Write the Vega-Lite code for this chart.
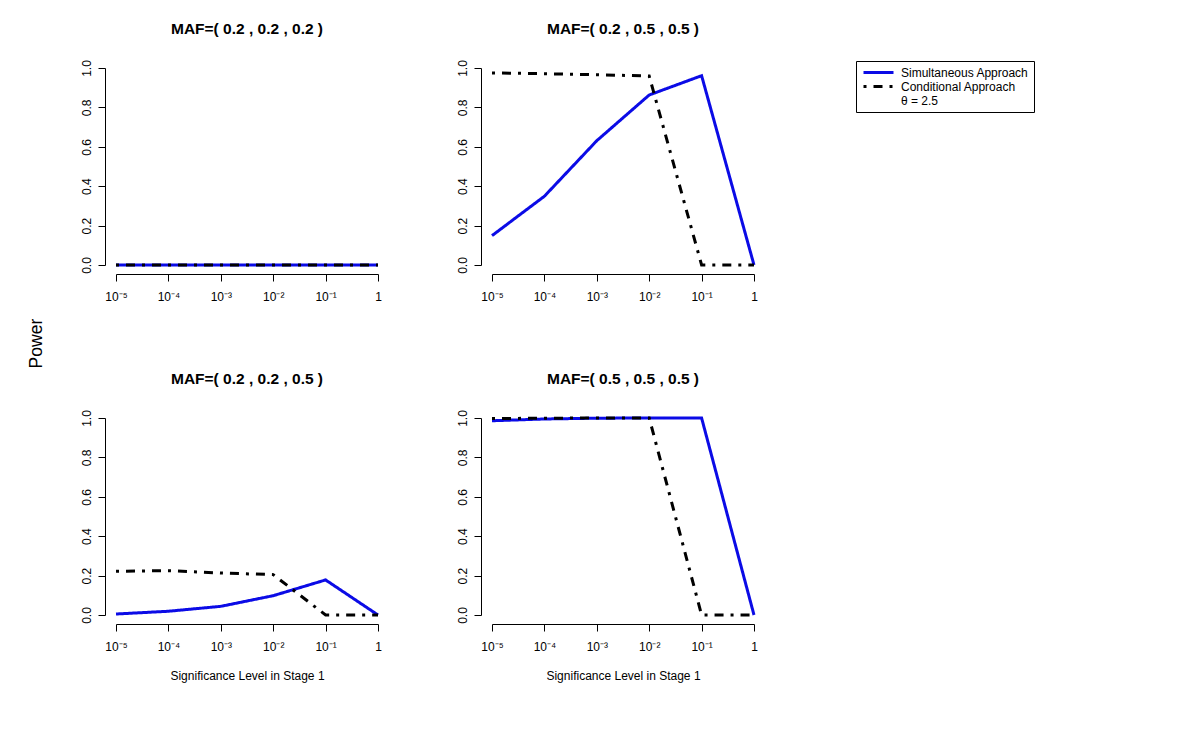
{
  "$schema": "https://vega.github.io/schema/vega-lite/v6.json",
  "background": "white",
  "padding": {"left": 27, "top": 22, "right": 5, "bottom": 5},
  "title": {"text": "Power", "orient": "left", "anchor": "middle", "fontSize": 17.5, "fontWeight": "normal", "font": "Liberation Sans", "color": "black", "offset": 35, "dx": 8},
  "datasets": {
    "power": [
      {"panel": "A", "series": "Simultaneous Approach", "alpha": 0.00001, "power": 0},
      {"panel": "A", "series": "Simultaneous Approach", "alpha": 0.0001, "power": 0},
      {"panel": "A", "series": "Simultaneous Approach", "alpha": 0.001, "power": 0},
      {"panel": "A", "series": "Simultaneous Approach", "alpha": 0.01, "power": 0},
      {"panel": "A", "series": "Simultaneous Approach", "alpha": 0.1, "power": 0},
      {"panel": "A", "series": "Simultaneous Approach", "alpha": 1, "power": 0},
      {"panel": "A", "series": "Conditional Approach", "alpha": 0.00001, "power": 0},
      {"panel": "A", "series": "Conditional Approach", "alpha": 0.0001, "power": 0},
      {"panel": "A", "series": "Conditional Approach", "alpha": 0.001, "power": 0},
      {"panel": "A", "series": "Conditional Approach", "alpha": 0.01, "power": 0},
      {"panel": "A", "series": "Conditional Approach", "alpha": 0.1, "power": 0},
      {"panel": "A", "series": "Conditional Approach", "alpha": 1, "power": 0},
      {"panel": "B", "series": "Simultaneous Approach", "alpha": 0.00001, "power": 0.149},
      {"panel": "B", "series": "Simultaneous Approach", "alpha": 0.0001, "power": 0.349},
      {"panel": "B", "series": "Simultaneous Approach", "alpha": 0.001, "power": 0.631},
      {"panel": "B", "series": "Simultaneous Approach", "alpha": 0.01, "power": 0.863},
      {"panel": "B", "series": "Simultaneous Approach", "alpha": 0.1, "power": 0.961},
      {"panel": "B", "series": "Simultaneous Approach", "alpha": 1, "power": 0},
      {"panel": "B", "series": "Conditional Approach", "alpha": 0.00001, "power": 0.975},
      {"panel": "B", "series": "Conditional Approach", "alpha": 0.0001, "power": 0.971},
      {"panel": "B", "series": "Conditional Approach", "alpha": 0.001, "power": 0.966},
      {"panel": "B", "series": "Conditional Approach", "alpha": 0.01, "power": 0.959},
      {"panel": "B", "series": "Conditional Approach", "alpha": 0.1, "power": 0},
      {"panel": "B", "series": "Conditional Approach", "alpha": 1, "power": 0},
      {"panel": "C", "series": "Simultaneous Approach", "alpha": 0.00001, "power": 0.005},
      {"panel": "C", "series": "Simultaneous Approach", "alpha": 0.0001, "power": 0.019},
      {"panel": "C", "series": "Simultaneous Approach", "alpha": 0.001, "power": 0.044},
      {"panel": "C", "series": "Simultaneous Approach", "alpha": 0.01, "power": 0.098},
      {"panel": "C", "series": "Simultaneous Approach", "alpha": 0.1, "power": 0.178},
      {"panel": "C", "series": "Simultaneous Approach", "alpha": 1, "power": 0},
      {"panel": "C", "series": "Conditional Approach", "alpha": 0.00001, "power": 0.222},
      {"panel": "C", "series": "Conditional Approach", "alpha": 0.0001, "power": 0.225},
      {"panel": "C", "series": "Conditional Approach", "alpha": 0.001, "power": 0.213},
      {"panel": "C", "series": "Conditional Approach", "alpha": 0.01, "power": 0.205},
      {"panel": "C", "series": "Conditional Approach", "alpha": 0.1, "power": 0},
      {"panel": "C", "series": "Conditional Approach", "alpha": 1, "power": 0},
      {"panel": "D", "series": "Simultaneous Approach", "alpha": 0.00001, "power": 0.986},
      {"panel": "D", "series": "Simultaneous Approach", "alpha": 0.0001, "power": 0.995},
      {"panel": "D", "series": "Simultaneous Approach", "alpha": 0.001, "power": 0.999},
      {"panel": "D", "series": "Simultaneous Approach", "alpha": 0.01, "power": 1.0},
      {"panel": "D", "series": "Simultaneous Approach", "alpha": 0.1, "power": 1.0},
      {"panel": "D", "series": "Simultaneous Approach", "alpha": 1, "power": 0},
      {"panel": "D", "series": "Conditional Approach", "alpha": 0.00001, "power": 0.997},
      {"panel": "D", "series": "Conditional Approach", "alpha": 0.0001, "power": 0.999},
      {"panel": "D", "series": "Conditional Approach", "alpha": 0.001, "power": 1.0},
      {"panel": "D", "series": "Conditional Approach", "alpha": 0.01, "power": 1.0},
      {"panel": "D", "series": "Conditional Approach", "alpha": 0.1, "power": 0},
      {"panel": "D", "series": "Conditional Approach", "alpha": 1, "power": 0}
    ]
  },
  "data": {"name": "power"},
  "columns": 2,
  "bounds": "flush",
  "spacing": {"row": 153, "column": 114},
  "resolve": {"scale": {"color": "shared", "strokeDash": "shared"}, "legend": {"color": "shared", "strokeDash": "shared"}},
  "concat": [
    {
      "title": {"text": "MAF=( 0.2 , 0.2 , 0.2 )"},
      "width": 262, "height": 197,
      "transform": [{"filter": "datum.panel === 'A'"}],
      "mark": {"type": "line", "strokeWidth": 3, "clip": false},
      "encoding": {
        "x": {"field": "alpha", "type": "quantitative", "scale": {"type": "log", "domain": [0.00001, 1], "nice": false}, "axis": {"title": null, "values": [0.00001, 0.0001, 0.001, 0.01, 0.1, 1], "labelExpr": "datum.value > 0.5 ? '1' : datum.value > 0.05 ? '10⁻¹' : datum.value > 0.005 ? '10⁻²' : datum.value > 0.0005 ? '10⁻³' : datum.value > 0.00005 ? '10⁻⁴' : '10⁻⁵'"}},
        "y": {"field": "power", "type": "quantitative", "scale": {"domain": [0, 1], "nice": false, "zero": false}, "axis": {"title": null, "values": [0, 0.2, 0.4, 0.6, 0.8, 1], "format": ".1f"}},
        "color": {"field": "series", "type": "nominal", "scale": {"domain": ["Simultaneous Approach", "Conditional Approach", "θ = 2.5"], "range": ["#0b0be6", "black", "transparent"]}, "legend": {"title": null}},
        "strokeDash": {"field": "series", "type": "nominal", "scale": {"domain": ["Simultaneous Approach", "Conditional Approach", "θ = 2.5"], "range": [[1, 0], [3, 7, 9, 7], [1, 0]]}, "legend": {"title": null}}
      }
    },
    {
      "title": {"text": "MAF=( 0.2 , 0.5 , 0.5 )"},
      "width": 262, "height": 197,
      "transform": [{"filter": "datum.panel === 'B'"}],
      "mark": {"type": "line", "strokeWidth": 3, "clip": false},
      "encoding": {
        "x": {"field": "alpha", "type": "quantitative", "scale": {"type": "log", "domain": [0.00001, 1], "nice": false}, "axis": {"title": null, "values": [0.00001, 0.0001, 0.001, 0.01, 0.1, 1], "labelExpr": "datum.value > 0.5 ? '1' : datum.value > 0.05 ? '10⁻¹' : datum.value > 0.005 ? '10⁻²' : datum.value > 0.0005 ? '10⁻³' : datum.value > 0.00005 ? '10⁻⁴' : '10⁻⁵'"}},
        "y": {"field": "power", "type": "quantitative", "scale": {"domain": [0, 1], "nice": false, "zero": false}, "axis": {"title": null, "values": [0, 0.2, 0.4, 0.6, 0.8, 1], "format": ".1f"}},
        "color": {"field": "series", "type": "nominal", "scale": {"domain": ["Simultaneous Approach", "Conditional Approach", "θ = 2.5"], "range": ["#0b0be6", "black", "transparent"]}, "legend": {"title": null}},
        "strokeDash": {"field": "series", "type": "nominal", "scale": {"domain": ["Simultaneous Approach", "Conditional Approach", "θ = 2.5"], "range": [[1, 0], [3, 7, 9, 7], [1, 0]]}, "legend": {"title": null}}
      }
    },
    {
      "title": {"text": "MAF=( 0.2 , 0.2 , 0.5 )"},
      "width": 262, "height": 197,
      "transform": [{"filter": "datum.panel === 'C'"}],
      "mark": {"type": "line", "strokeWidth": 3, "clip": false},
      "encoding": {
        "x": {"field": "alpha", "type": "quantitative", "scale": {"type": "log", "domain": [0.00001, 1], "nice": false}, "axis": {"title": "Significance Level in Stage 1", "values": [0.00001, 0.0001, 0.001, 0.01, 0.1, 1], "labelExpr": "datum.value > 0.5 ? '1' : datum.value > 0.05 ? '10⁻¹' : datum.value > 0.005 ? '10⁻²' : datum.value > 0.0005 ? '10⁻³' : datum.value > 0.00005 ? '10⁻⁴' : '10⁻⁵'"}},
        "y": {"field": "power", "type": "quantitative", "scale": {"domain": [0, 1], "nice": false, "zero": false}, "axis": {"title": null, "values": [0, 0.2, 0.4, 0.6, 0.8, 1], "format": ".1f"}},
        "color": {"field": "series", "type": "nominal", "scale": {"domain": ["Simultaneous Approach", "Conditional Approach", "θ = 2.5"], "range": ["#0b0be6", "black", "transparent"]}, "legend": {"title": null}},
        "strokeDash": {"field": "series", "type": "nominal", "scale": {"domain": ["Simultaneous Approach", "Conditional Approach", "θ = 2.5"], "range": [[1, 0], [3, 7, 9, 7], [1, 0]]}, "legend": {"title": null}}
      }
    },
    {
      "title": {"text": "MAF=( 0.5 , 0.5 , 0.5 )"},
      "width": 262, "height": 197,
      "transform": [{"filter": "datum.panel === 'D'"}],
      "mark": {"type": "line", "strokeWidth": 3, "clip": false},
      "encoding": {
        "x": {"field": "alpha", "type": "quantitative", "scale": {"type": "log", "domain": [0.00001, 1], "nice": false}, "axis": {"title": "Significance Level in Stage 1", "values": [0.00001, 0.0001, 0.001, 0.01, 0.1, 1], "labelExpr": "datum.value > 0.5 ? '1' : datum.value > 0.05 ? '10⁻¹' : datum.value > 0.005 ? '10⁻²' : datum.value > 0.0005 ? '10⁻³' : datum.value > 0.00005 ? '10⁻⁴' : '10⁻⁵'"}},
        "y": {"field": "power", "type": "quantitative", "scale": {"domain": [0, 1], "nice": false, "zero": false}, "axis": {"title": null, "values": [0, 0.2, 0.4, 0.6, 0.8, 1], "format": ".1f"}},
        "color": {"field": "series", "type": "nominal", "scale": {"domain": ["Simultaneous Approach", "Conditional Approach", "θ = 2.5"], "range": ["#0b0be6", "black", "transparent"]}, "legend": {"title": null}},
        "strokeDash": {"field": "series", "type": "nominal", "scale": {"domain": ["Simultaneous Approach", "Conditional Approach", "θ = 2.5"], "range": [[1, 0], [3, 7, 9, 7], [1, 0]]}, "legend": {"title": null}}
      }
    }
  ],
  "config": {
    "font": "Liberation Sans",
    "view": {"stroke": null},
    "title": {"fontSize": 15.5, "fontWeight": "bold", "font": "Liberation Sans", "color": "black", "offset": 22},
    "axis": {"grid": false, "domainColor": "black", "tickColor": "black", "labelColor": "black", "titleColor": "black", "domainWidth": 1, "tickWidth": 1, "tickSize": 7, "labelFont": "Liberation Sans", "labelFontSize": 12, "titleFont": "Liberation Sans", "titleFontSize": 12, "titleFontWeight": "normal"},
    "axisX": {"offset": 9, "labelPadding": 10, "titlePadding": 18, "labelFlush": false, "labelOverlap": false},
    "axisY": {"offset": 11, "labelAngle": -90, "labelAlign": "center", "labelBaseline": "bottom", "labelPadding": 5, "labelFlush": false, "labelOverlap": false},
    "legend": {"orient": "none", "legendX": 740, "legendY": -7, "strokeColor": "black", "padding": 5, "symbolType": "M-0.8,0H5.2", "symbolSize": 100, "symbolStrokeWidth": 3, "labelFontSize": 12, "labelFont": "Liberation Sans", "labelColor": "black", "rowPadding": 1, "labelOffset": 27, "fillColor": "white"}
  }
}
